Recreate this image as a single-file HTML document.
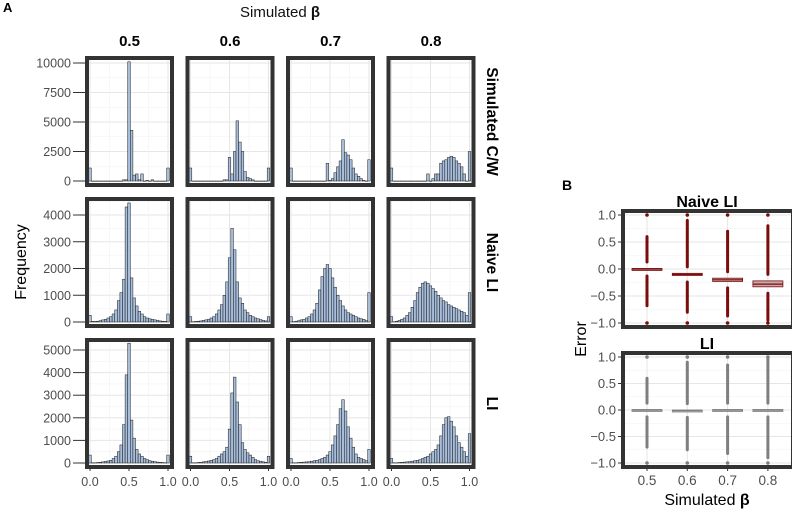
<!DOCTYPE html>
<html><head><meta charset="utf-8"><style>
html,body{margin:0;padding:0;background:#fff}
svg{display:block;font-family:"Liberation Sans",sans-serif}
</style></head><body>
<svg id="fig" width="792" height="515" viewBox="0 0 792 515" xmlns="http://www.w3.org/2000/svg">
<text x="3" y="12" font-size="13" font-weight="bold">A</text>
<text x="280" y="17" font-size="15" text-anchor="middle" fill="#111">Simulated <tspan font-weight="bold">β</tspan></text>
<text transform="translate(26,262) rotate(-90)" font-size="16" text-anchor="middle">Frequency</text>
<text x="562" y="190" font-size="14" font-weight="bold">B</text>
<text transform="translate(586,339) rotate(-90)" font-size="16" text-anchor="middle">Error</text>
<text x="707" y="505" font-size="16" text-anchor="middle">Simulated <tspan font-weight="bold">β</tspan></text>
<g id="gA"></g><g id="gB"></g>
</svg>
<script>
const betas = ["0.5","0.6","0.7","0.8"];
const rowLabels = ["Simulated C/W","Naive LI","LI"];
const rowTicks = [[0,2500,5000,7500,10000],[0,1000,2000,3000,4000],[0,1000,2000,3000,4000,5000]];
const xTicks = [0,0.5,1];
const xTickLabels = ["0.0","0.5","1.0"];
const cw05 = [1100,0,0,0,0,0,0,0,0,0,0,0,0,100,100,10100,4300,500,600,100,600,0,50,0,100,0,0,0,0,0,1100];
const cw06 = [1100,0,0,0,0,0,0,0,0,0,0,0,0,100,100,2000,600,2500,5100,3300,2500,800,300,200,100,0,0,0,0,0,1100];
const cw07 = [1100,0,0,0,0,0,0,0,0,0,0,0,0,0,1500,50,200,700,1200,1700,3500,2400,2200,1800,1100,600,400,200,50,0,1800];
const cw08 = [1100,0,0,0,0,0,0,0,0,0,0,0,0,0,600,0,200,600,600,1500,1700,1800,2000,2100,2000,1700,1500,1200,600,0,2500];
const nv05 = [250,20,20,30,50,80,100,150,200,300,450,800,1100,1600,4300,4450,1650,900,600,400,300,200,150,120,100,80,60,40,30,20,300];
const nv06 = [200,10,20,30,40,60,80,100,150,200,300,450,650,1000,1500,2400,3500,2700,1500,900,700,450,350,250,200,150,120,90,60,40,200];
const nv07 = [200,10,30,50,80,100,150,200,300,450,700,1200,1700,2000,2150,2000,1650,1300,1000,800,600,450,350,300,250,200,150,120,100,50,1100];
const nv08 = [200,10,30,60,100,150,250,350,550,800,1100,1300,1450,1500,1450,1350,1250,1150,1000,900,800,750,650,600,550,500,450,400,350,250,1100];
const li05 = [350,10,10,20,30,50,70,90,120,200,300,500,800,1700,3900,5300,1900,1100,600,400,300,200,150,100,80,60,40,30,20,10,350];
const li06 = [300,10,10,20,30,50,70,90,120,150,200,300,400,500,700,1500,3100,3800,2700,1700,900,600,450,350,250,150,100,80,50,30,300];
const li07 = [200,10,10,20,30,40,50,60,80,100,120,150,200,250,350,500,800,1200,1700,2400,2800,2300,1600,1100,700,400,250,200,150,100,600];
const li08 = [200,10,10,20,30,40,50,60,80,100,120,150,200,250,300,400,500,600,800,1200,1700,2000,2050,1850,1600,1200,900,700,500,300,1300];
const rowData = [[cw05,cw06,cw07,cw08],[nv05,nv06,nv07,nv08],[li05,li06,li07,li08]];

const bCats = ["0.5","0.6","0.7","0.8"];
const bTicks = [-1,-0.5,0,0.5,1];
const bTickLabels = ["−1.0","−0.5","0.0","0.5","1.0"];
const naiveMed = [0,-0.1,-0.2,-0.28];
const naiveQ1 = [-0.01,-0.12,-0.23,-0.33];
const naiveQ3 = [0.01,-0.08,-0.17,-0.22];
const naiveMin = [-0.68,-0.8,-0.87,-0.95];
const naiveMax = [0.6,0.9,0.7,0.8];
const liMed = [0,-0.01,0,0];
const liQ1 = [-0.01,-0.02,-0.01,-0.01];
const liQ3 = [0.01,0.0,0.01,0.01];
const liMin = [-0.7,-0.75,-0.82,-0.9];
const liMax = [0.6,0.9,0.85,1.0];

const NS="http://www.w3.org/2000/svg";
function mk(tag,attrs,parent){const e=document.createElementNS(NS,tag);for(const k in attrs)e.setAttribute(k,attrs[k]);parent.appendChild(e);return e;}

const gA=document.getElementById('gA');
const colX0=[89,189.5,290,390.5], panW=81;
const rowTop=[60,201,342], panH=123;
const rowZero=[181,322,463], rowPx=[118/10000,107/4000,113/5000];
function xs(c,v){return colX0[c]+1+v*78;}
betas.forEach((b,c)=>{
  const t=mk('text',{x:colX0[c]+panW/2,y:46,'font-size':15,'font-weight':'bold','text-anchor':'middle'},gA);
  t.textContent=b;
  
  
});
rowLabels.forEach((lab,r)=>{
  const cy=rowTop[r]+panH/2;
  const t=mk('text',{transform:`translate(487,${cy}) rotate(90)`,'font-size':15.5,'font-weight':'bold','text-anchor':'middle'},gA);
  t.textContent=lab;
  
  
  const ys=v=>rowZero[r]-v*rowPx[r];
  rowTicks[r].forEach(v=>{
    const tl=mk('text',{x:71,y:ys(v)+4.5,'font-size':12.5,'text-anchor':'end',fill:'#4d4d4d'},gA);
    tl.textContent=String(v);
    
    
    mk('line',{x1:73,x2:85,y1:ys(v),y2:ys(v),stroke:'#333','stroke-width':1},gA);
  });
  for(let c=0;c<4;c++){
    const g=mk('g',{},gA);
    
    
    const x0=colX0[c];
    mk('rect',{x:x0,y:rowTop[r],width:panW,height:panH,fill:'#fff'},g);
    const step=rowTicks[r][1];
    for(let v=step/2; ys(v)>rowTop[r]; v+=step/2){
      const major=(Math.round(v/step*2)%2===0);
      mk('line',{x1:x0,x2:x0+panW,y1:ys(v),y2:ys(v),stroke:major?'#e6e6e6':'#f2f2f2','stroke-width':major?1:0.6},g);
    }
    [0,0.25,0.5,0.75,1].forEach((v,i)=>{
      mk('line',{x1:xs(c,v),x2:xs(c,v),y1:rowTop[r],y2:rowTop[r]+panH,stroke:i%2?'#f2f2f2':'#e6e6e6','stroke-width':i%2?0.6:1},g);
    });
    const d=rowData[r][c];
    const bw=78/30;
    d.forEach((v,k)=>{
      const cx=xs(c,k/30);
      const h=v*rowPx[r];
      const bar=mk('rect',{x:cx-bw/2,y:rowZero[r]-h,width:bw,height:Math.max(h,0.3),fill:'#a6bddb',stroke:'#1a1a1a','stroke-width':0.5},g);
      
      
    });
    mk('rect',{x:x0-2,y:rowTop[r]-2,width:panW+4,height:panH+4,fill:'none',stroke:'#333','stroke-width':4},g);
    if(r===2){
      xTicks.forEach((v,i)=>{
        mk('line',{x1:xs(c,v),x2:xs(c,v),y1:rowTop[r]+panH+2,y2:rowTop[r]+panH+6,stroke:'#333'},gA);
        const tl=mk('text',{x:xs(c,v),y:486,'font-size':12.5,'text-anchor':'middle',fill:'#4d4d4d'},gA);
        tl.textContent=xTickLabels[i];
        
        
      });
    }
  }
});

const gB=document.getElementById('gB');
const bx0=625,bw=166;
const bPanels=[{title:'Naive LI',top:213,bot:325,med:naiveMed,q1:naiveQ1,q3:naiveQ3,mn:naiveMin,mx:naiveMax,col:'#7a0c0c',box:'#c9a7ab'},
               {title:'LI',top:355,bot:465,med:liMed,q1:liQ1,q3:liQ3,mn:liMin,mx:liMax,col:'#7f7f7f',box:'#bdbdbd'}];
const bxs=i=>647+i*40.3;
bPanels.forEach((p,pi)=>{
  const ys=v=>(p.top+p.bot)/2 - v*(p.bot-p.top-4)/2;
  const g=mk('g',{},gB);
  
  
  const t=mk('text',{x:707,y:p.top-6,'font-size':16,'font-weight':'bold','text-anchor':'middle'},g);
  t.textContent=p.title;
  
  
  mk('rect',{x:bx0,y:p.top,width:bw,height:p.bot-p.top,fill:'#fff'},g);
  [-0.75,-0.25,0.25,0.75].forEach(v=>mk('line',{x1:bx0,x2:bx0+bw,y1:ys(v),y2:ys(v),stroke:'#f2f2f2','stroke-width':0.6},g));
  bTicks.forEach((v,i)=>{
    mk('line',{x1:bx0,x2:bx0+bw,y1:ys(v),y2:ys(v),stroke:'#e6e6e6'},g);
    mk('line',{x1:618,x2:623,y1:ys(v),y2:ys(v),stroke:'#333'},g);
    const tl=mk('text',{x:616,y:ys(v)+4.5,'font-size':13,'text-anchor':'end',fill:'#4d4d4d'},g);
    tl.textContent=bTickLabels[i];
    
    
  });
  bCats.forEach((c,i)=>{
    const x=bxs(i);
    mk('line',{x1:x,x2:x,y1:p.top,y2:p.bot,stroke:'#e6e6e6'},g);
    const s1=mk('line',{x1:x,x2:x,y1:ys(p.mx[i]),y2:ys(p.q3[i]+0.12),stroke:p.col,'stroke-width':3,'stroke-linecap':'round'},g);
    
    
    const s2=mk('line',{x1:x,x2:x,y1:ys(p.q1[i]-0.12),y2:ys(p.mn[i]),stroke:p.col,'stroke-width':3,'stroke-linecap':'round'},g);
    
    
    [1,-1].forEach(v=>{const dt=mk('circle',{cx:x,cy:ys(v),r:1.8,fill:p.col},g);
      
      });
    const bx=mk('rect',{x:x-15,y:ys(p.q3[i]),width:30,height:Math.max(ys(p.q1[i])-ys(p.q3[i]),2),fill:p.box,stroke:p.col,'stroke-width':0.8},g);
    
    
    mk('line',{x1:x-15,x2:x+15,y1:ys(p.med[i]),y2:ys(p.med[i]),stroke:p.col,'stroke-width':1.2},g);
    if(pi===1){
      mk('line',{x1:x,x2:x,y1:p.bot+2,y2:p.bot+6,stroke:'#333'},gB);
      const tl=mk('text',{x:x,y:485,'font-size':13.5,'text-anchor':'middle',fill:'#4d4d4d'},gB);
      tl.textContent=c;
      
      
    }
  });
  mk('rect',{x:bx0-2,y:p.top-2,width:bw+4,height:p.bot-p.top+4,fill:'none',stroke:'#333','stroke-width':4},g);
});
</script>
</body></html>
